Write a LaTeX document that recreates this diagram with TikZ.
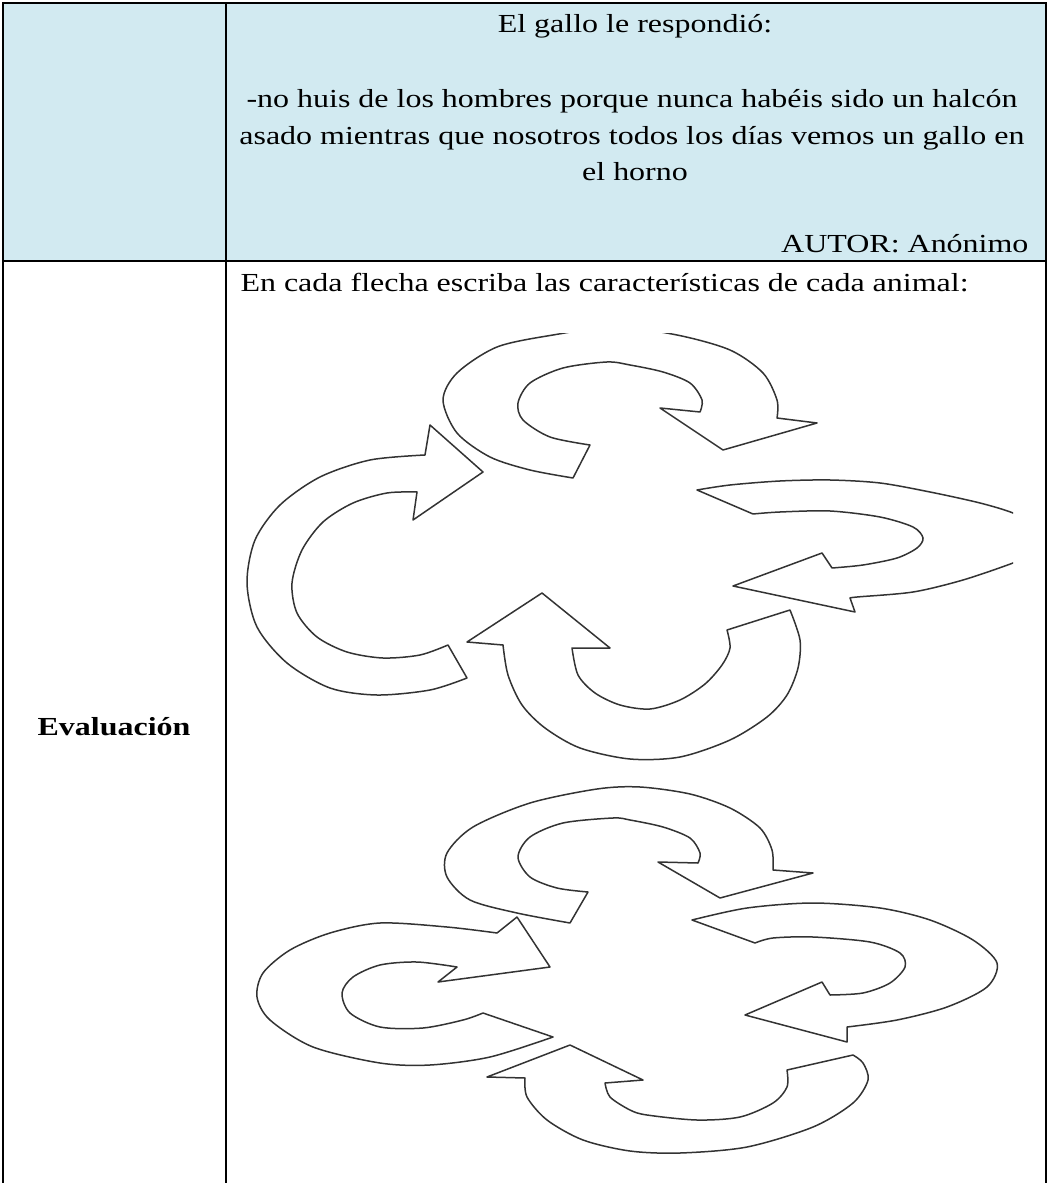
\documentclass[tikz,border=0pt]{standalone}
\usepackage{fontspec}
\setmainfont{Liberation Serif}[FakeStretch=1.23]
\definecolor{cellblue}{HTML}{D2EAF1}

\begin{document}
\begin{tikzpicture}[x=0.4pt, y=-0.4pt,
		tableline/.style={line width=0.8pt, black},
		arrowline/.style={line width=0.6pt, black!80, line join=round},
		every node/.style={inner sep=0pt, font=\fontsize{10.4}{14.8}\selectfont}]
		\useasboundingbox (0,0) rectangle (1048,1183);

		% Table
		\fill[cellblue] (3,3) rectangle (1046,261);
		\draw[tableline] (3,1183) -- (3,3) -- (1046,3) -- (1046,1183);
		\draw[tableline] (226,3) -- (226,1183);
		\draw[tableline] (3,261) -- (1046,261);

		% Texts of the first row
		\node[anchor=base] (gallo) at (635,33) {El gallo le respondió:};
		\node[anchor=base] (lineone) at (632,108) {-no huis de los hombres porque nunca habéis sido un halcón};
		\node[anchor=base] (linetwo) at (632,145) {asado mientras que nosotros todos los días vemos un gallo en};
		\node[anchor=base] (linethree) at (635,181) {el horno};
		\node[anchor=base east] (autor) at (1029,253) {AUTOR: Anónimo};

		% Texts of the second row
		\node[anchor=base west] (consigna) at (240,292) {En cada flecha escriba las características de cada animal:};
		\node[anchor=base, font=\fontsize{10.4}{14.8}\selectfont\bfseries] (evaluacion) at (114,735) {Evaluación};

		% First cycle of arrows (cropped picture)
		\begin{scope}
			\clip (240,333.5) rectangle (1013,790);
			% top arrow
			\draw[arrowline] plot[smooth] coordinates {(573,478) (530,470) (490,457) (457,433) (443,400) (457,373) (497,347) (553,335) (615,327) (677,335) (730,350) (763,373) (777,400) (777,418)}
				-- (817,423) -- (723,450) -- (660,408)
				-- plot[smooth] coordinates {(700,412) (702,400) (690,383) (663,372) (630,365) (607,362) (563,368) (530,383) (518,403) (523,420) (550,437) (590,445)} -- cycle;
			% left arrow
			\draw[arrowline] plot[smooth] coordinates {(467,678) (430,690) (377,695) (330,688) (287,663) (257,627) (247,583) (255,540) (280,505) (320,477) (370,460) (425,455)}
				-- (430,425) -- (483,472) -- (413,520)
				-- plot[smooth] coordinates {(417,492) (387,493) (353,503) (323,522) (302,550) (292,583) (297,613) (317,637) (347,652) (383,658) (420,655) (448,645)} -- cycle;
			% bottom arrow
			\draw[arrowline] plot[smooth] coordinates {(790,610) (800,640) (798,668) (787,695) (767,717) (730,740) (680,757) (630,759) (580,748) (545,728) (522,705) (508,675) (503,645)}
				-- (467,642) -- (542,593) -- (610,648)
				-- plot[smooth] coordinates {(572,648) (578,675) (595,693) (620,705) (650,709) (680,700) (705,684) (722,665) (730,648) (727,630)} -- cycle;
			% right arrow
			\draw[arrowline] plot[smooth] coordinates {(697,490) (730,485) (780,481) (830,480) (880,483) (930,492) (980,503) (1013,513) (1035,525) (1042,540) (1035,553) (1013,563) (963,580) (913,592) (857,597) (850,598)}
				-- (855,612) -- (733,586) -- (822,553)
				-- plot[smooth] coordinates {(832,568) (863,565) (897,558) (917,548) (923,538) (913,527) (880,517) (830,511) (780,512) (753,514)} -- cycle;
		\end{scope}

		% Second cycle of arrows
		% top arrow
		\draw[arrowline] plot[smooth] coordinates {(570,923) (517,913) (470,900) (447,877) (447,853) (473,827) (530,803) (597,789) (640,787) (690,794) (730,808) (760,828) (772,850) (773,870)}
			-- (813,873) -- (720,898) -- (658,862)
			-- plot[smooth] coordinates {(698,863) (700,853) (690,838) (663,827) (630,820) (613,818) (563,823) (530,837) (518,857) (530,877) (557,888) (588,892)} -- cycle;
		% left arrow
		\draw[arrowline] plot[smooth] coordinates {(553,1037) (490,1057) (430,1065) (380,1063) (313,1047) (270,1020) (257,997) (263,973) (290,950) (330,933) (380,923) (447,927) (497,933)}
			-- (517,917) -- (550,967) -- (438,982)
			-- plot[smooth] coordinates {(457,967) (417,962) (380,965) (353,977) (342,993) (350,1013) (380,1027) (423,1028) (463,1020) (483,1013)} -- cycle;
		% bottom arrow
		\draw[arrowline] plot[smooth] coordinates {(853,1055) (863,1063) (868,1080) (853,1103) (813,1127) (747,1147) (680,1153) (630,1151) (583,1140) (547,1120) (527,1097) (525,1078)}
			-- (487,1077) -- (570,1045) -- (643,1080)
			-- plot[smooth] coordinates {(605,1083) (610,1097) (630,1110) (647,1115) (697,1120) (740,1117) (773,1103) (787,1087) (787,1070)} -- cycle;
		% right arrow
		\draw[arrowline] plot[smooth] coordinates {(692,920) (747,908) (813,903) (880,908) (930,920) (973,940) (997,963) (987,987) (947,1007) (897,1020) (847,1027)}
			-- (847,1042) -- (745,1015) -- (822,982)
			-- plot[smooth] coordinates {(830,995) (863,993) (890,983) (905,967) (900,953) (870,942) (813,937) (773,938) (755,943)} -- cycle;

	\end{tikzpicture}
\end{document}
